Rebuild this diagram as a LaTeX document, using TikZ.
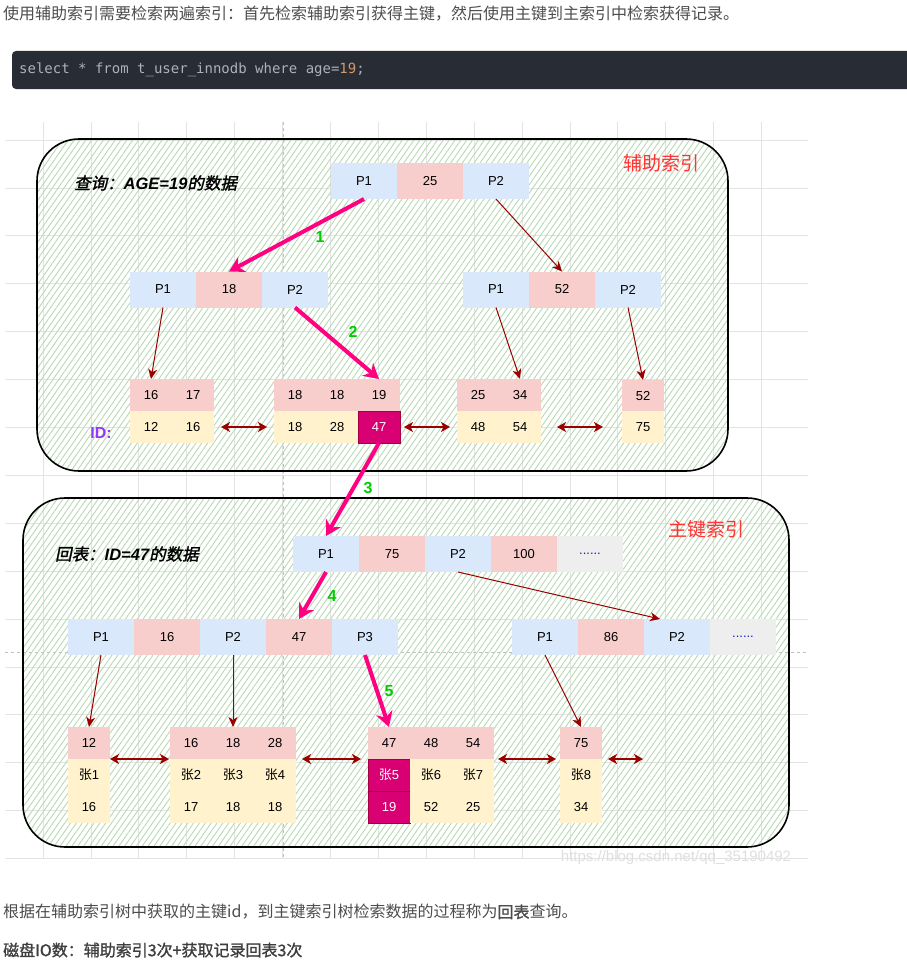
\documentclass[tikz,border=0pt]{standalone}
\usepackage{fontspec}
\setmainfont{Liberation Sans}
\newfontfamily\cjk{Noto Sans CJK SC}
\newfontfamily\cjkb{Noto Sans CJK SC}[FakeBold=1.2]
\newfontfamily\cjkbi{Noto Sans CJK SC}[FakeSlant=0.2,FakeBold=1.5]
\newfontfamily\monof{DejaVu Sans Mono}
\usetikzlibrary{arrows.meta,patterns.meta}
\definecolor{cblue}{HTML}{DAE8FC}
\definecolor{cpink}{HTML}{F8CECC}
\definecolor{cyel}{HTML}{FFF2CC}
\definecolor{cgray}{HTML}{EEEEEE}
\definecolor{chot}{HTML}{D80073}
\definecolor{chotb}{HTML}{A50040}
\definecolor{dred}{HTML}{990000}
\definecolor{mag}{HTML}{FF0080}
\definecolor{lgreen}{HTML}{00CC00}
\definecolor{hatchc}{HTML}{B9D9B5}
\definecolor{gridc}{HTML}{E3E3E3}
\definecolor{txt}{HTML}{4D4D4D}
\definecolor{codebg}{HTML}{282C34}
\definecolor{codefg}{HTML}{ABB2BF}
\definecolor{codenum}{HTML}{D19A66}
\definecolor{redlbl}{HTML}{FF3333}
\definecolor{purp}{HTML}{9933FF}
\definecolor{dots}{HTML}{1A1AB3}
\tikzset{
  cell/.style={inner sep=0pt, outer sep=0pt, font=\fontsize{13}{15}\selectfont, text=black},
  bigc/.style={cell, minimum width=66pt, minimum height=36pt},
  leafc/.style={cell, minimum width=42pt, minimum height=32pt},
  fb/.style={fill=cblue},
  fp/.style={fill=cpink},
  fy/.style={fill=cyel},
  fg/.style={fill=cgray, text=dots},
  fh/.style={fill=chot, draw=chotb, line width=1pt, text=white},
  tarr/.style={draw=dred, line width=1pt, -{Stealth[length=10pt,width=9pt,inset=3pt]}},
  marr/.style={draw=mag, line width=4pt, -{Stealth[length=15pt,width=17pt,inset=5pt]}},
  dbl/.style={draw=dred, line width=1.5pt, {Stealth[length=9pt,width=10pt,inset=2.5pt]}-{Stealth[length=9pt,width=10pt,inset=2.5pt]}},
  num/.style={text=lgreen, font=\bfseries\fontsize{16}{18}\selectfont},
  container/.style={draw=black, line width=1.6pt, rounded corners=42pt, pattern={Lines[angle=55,distance=4.8pt,line width=0.9pt]}, pattern color=hatchc},
}
\begin{document}
\begin{tikzpicture}[x=1pt,y=-1pt]
\useasboundingbox (0,0) rectangle (906,974);
\fill[white] (0,0) rectangle (906,974);

% header text
\node[anchor=west, text=txt, font=\cjk\fontsize{16}{18}\selectfont, inner sep=0pt] (head) at (3,14) {使用辅助索引需要检索两遍索引：首先检索辅助索引获得主键，然后使用主键到主索引中检索获得记录。};
% code block
\fill[codebg, rounded corners=4pt] (12,51) rectangle (920,89);
\node[anchor=west, inner sep=0pt, text=codefg, font=\monof\fontsize{14}{16}\selectfont] (code) at (19,70) {select * from t\_user\_innodb where age=\textcolor{codenum}{19};};

% grid
\foreach \i in {0,...,15} \draw[gridc, line width=0.8pt] ({43+47.9*\i},122) -- ({43+47.9*\i},858);
\foreach \j in {0,...,15} \draw[gridc, line width=0.8pt] (5,{140+47.9*\j}) -- (808,{140+47.9*\j});
\draw[gray!50, dashed, line width=0.6pt] (283,122) -- (283,858);
\draw[gray!50, dashed, line width=0.6pt] (5,652) -- (808,652);

% containers
\draw[container] (37,139) rectangle (728,471);
\draw[container] (23,498) rectangle (789,847);

% labels
\node[anchor=west, inner sep=0pt, font=\fontsize{16.5}{18}\selectfont] (t1) at (74,183) {{\cjkbi 查询：}{\bfseries\itshape AGE=19}{\cjkbi 的数据}};
\node[anchor=west, inner sep=0pt, font=\fontsize{16.5}{18}\selectfont] (t2) at (55,554) {{\cjkbi 回表：}{\bfseries\itshape ID=47}{\cjkbi 的数据}};
\node[anchor=west, inner sep=0pt, text=redlbl, font=\cjk\fontsize{19}{21}\selectfont] (t3) at (623,163) {辅助索引};
\node[anchor=west, inner sep=0pt, text=redlbl, font=\cjk\fontsize{19}{21}\selectfont] (t4) at (668,529) {主键索引};
\node[inner sep=0pt, text=purp, font=\bfseries\fontsize{16}{18}\selectfont] (idl) at (101,433) {ID:};

% ---------- top tree ----------
\node[bigc,fb] (r1) at (364,181) {P1};
\node[bigc,fp] (r2) at (430,181) {25};
\node[bigc,fb] (r3) at (496,181) {P2};

\node[bigc,fb] (a1) at (163,289.5) {P1};
\node[bigc,fp] (a2) at (229,289.5) {18};
\node[bigc,fb] (a3) at (295,289.5) {P2};

\node[bigc,fb] (b1) at (496,289.5) {P1};
\node[bigc,fp] (b2) at (562,289.5) {52};
\node[bigc,fb] (b3) at (628,289.5) {P2};

\node[leafc,fp] (k11) at (151,395) {16};
\node[leafc,fp] (k12) at (193,395) {17};
\node[leafc,fy] (i11) at (151,427) {12};
\node[leafc,fy] (i12) at (193,427) {16};

\node[leafc,fp] (k21) at (295,395) {18};
\node[leafc,fp] (k22) at (337,395) {18};
\node[leafc,fp] (k23) at (379,395) {19};
\node[leafc,fy] (i21) at (295,427) {18};
\node[leafc,fy] (i22) at (337,427) {28};
\node[leafc,fh] (i23) at (379,427) {47};

\node[leafc,fp] (k31) at (478,395) {25};
\node[leafc,fp] (k32) at (520,395) {34};
\node[leafc,fy] (i31) at (478,427) {48};
\node[leafc,fy] (i32) at (520,427) {54};

\node[leafc,fp] (k41) at (643,396) {52};
\node[leafc,fy] (i41) at (643,427) {75};

\draw[marr] (r1.south) -- (a2.north);
\draw[tarr] (r3.south) -- (b2.north);
\draw[tarr] (a1.south) -- (k11.north);
\draw[marr] (a3.south) -- (k23.north);
\draw[tarr] (b1.south) -- (k32.north);
\draw[tarr] (b3.south) -- (k41.north);
\draw[dbl] ([xshift=7pt]i12.east) -- ([xshift=-7pt]i21.west);
\draw[dbl] ([xshift=4pt]i23.east) -- ([xshift=-7pt]i31.west);
\draw[dbl] ([xshift=16pt]i32.east) -- ([xshift=-19pt]i41.west);

\node[num] (n1) at (320,237) {1};
\node[num] (n2) at (353,332) {2};
\node[num] (n3) at (368,488) {3};
\node[num] (n4) at (332,596) {4};
\node[num] (n5) at (389,691) {5};

% ---------- bottom tree ----------
\node[bigc,fb] (s1) at (326,554) {P1};
\node[bigc,fp] (s2) at (392,554) {75};
\node[bigc,fb] (s3) at (458,554) {P2};
\node[bigc,fp] (s4) at (524,554) {100};
\node[bigc,fg] (s5) at (590,554) {......};

\node[bigc,fb] (c1) at (101,637) {P1};
\node[bigc,fp] (c2) at (167,637) {16};
\node[bigc,fb] (c3) at (233,637) {P2};
\node[bigc,fp] (c4) at (299,637) {47};
\node[bigc,fb] (c5) at (365,637) {P3};

\node[bigc,fb] (d1) at (545,637) {P1};
\node[bigc,fp] (d2) at (611,637) {86};
\node[bigc,fb] (d3) at (677,637) {P2};
\node[bigc,fg] (d4) at (743,637) {......};

% leaf A
\node[leafc,fp] (ka1) at (89,743) {12};
\node[leafc,fy] (na1) at (89,775) {\cjk 张\normalfont 1};
\node[leafc,fy] (aa1) at (89,807) {16};
% leaf B
\node[leafc,fp] (kb1) at (191,743) {16};
\node[leafc,fp] (kb2) at (233,743) {18};
\node[leafc,fp] (kb3) at (275,743) {28};
\node[leafc,fy] (nb1) at (191,775) {\cjk 张\normalfont 2};
\node[leafc,fy] (nb2) at (233,775) {\cjk 张\normalfont 3};
\node[leafc,fy] (nb3) at (275,775) {\cjk 张\normalfont 4};
\node[leafc,fy] (ab1) at (191,807) {17};
\node[leafc,fy] (ab2) at (233,807) {18};
\node[leafc,fy] (ab3) at (275,807) {18};
% leaf C
\node[leafc,fp] (kc1) at (389,743) {47};
\node[leafc,fp] (kc2) at (431,743) {48};
\node[leafc,fp] (kc3) at (473,743) {54};
\node[leafc,fh] (nc1) at (389,775) {\cjk 张\normalfont 5};
\node[leafc,fy] (nc2) at (431,775) {\cjk 张\normalfont 6};
\node[leafc,fy] (nc3) at (473,775) {\cjk 张\normalfont 7};
\node[leafc,fh] (ac1) at (389,807) {19};
\node[leafc,fy] (ac2) at (431,807) {52};
\node[leafc,fy] (ac3) at (473,807) {25};
% leaf D
\node[leafc,fp] (kd1) at (581,743) {75};
\node[leafc,fy] (nd1) at (581,775) {\cjk 张\normalfont 8};
\node[leafc,fy] (ad1) at (581,807) {34};
\coordinate (dend) at (643,759);

\draw[marr] (i23.south) -- (s1.north);
\draw[marr] (s1.south) -- (c4.north);
\draw[tarr] (s3.south) -- ([xshift=-17pt]d3.north);
\draw[tarr] (c1.south) -- (ka1.north);
\draw[tarr] (c3.south) -- (kb2.north);
\draw[marr] (c5.south) -- (kc1.north);
\draw[tarr] (d1.south) -- (kd1.north);
\draw[dbl] (ka1.south east) -- ([xshift=-1pt]kb1.south west);
\draw[dbl] ([xshift=6pt]kb3.south east) -- ([xshift=-7pt]kc1.south west);
\draw[dbl] ([xshift=4pt]kc3.south east) -- ([xshift=-4pt]kd1.south west);
\draw[dbl] ([xshift=6pt]kd1.south east) -- (dend);

% watermark
\node[text=gray!25, font=\fontsize{15}{17}\selectfont, inner sep=0pt] (wm) at (676,858) {https://blog.csdn.net/qq\_35190492};

% footer text
\node[anchor=west, text=txt, font=\cjk\fontsize{16}{18}\selectfont, inner sep=0pt] (foot1) at (3,912) {根据在辅助索引树中获取的主键id，到主键索引树检索数据的过程称为{\cjkb 回表}查询。};
\node[anchor=west, text=txt!80!black, font=\cjkb\fontsize{16}{18}\selectfont, inner sep=0pt] (foot2) at (3,950) {磁盘IO数：辅助索引3次+获取记录回表3次};
\end{tikzpicture}
\end{document}
